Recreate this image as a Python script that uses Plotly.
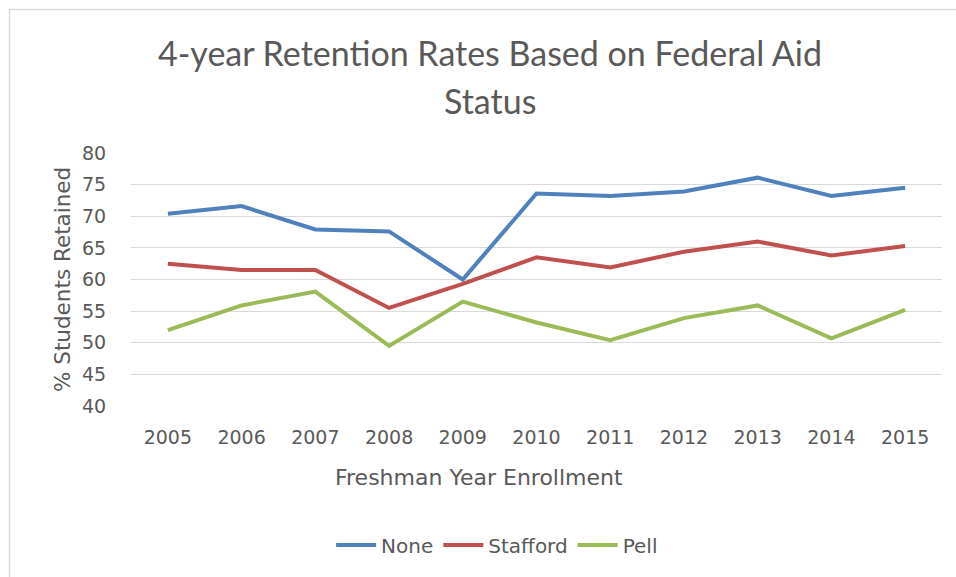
import plotly.graph_objects as go

# Freshman cohorts and 4-year retention (%) by federal aid status
years = ["2005", "2006", "2007", "2008", "2009", "2010",
         "2011", "2012", "2013", "2014", "2015"]
none_rates = [70.4, 71.6, 67.9, 67.6, 60.0, 73.6, 73.2, 73.9, 76.1, 73.2, 74.5]
stafford_rates = [62.5, 61.5, 61.5, 55.5, 59.3, 63.5, 61.9, 64.4, 66.0, 63.8, 65.3]
pell_rates = [52.0, 55.9, 58.1, 49.5, 56.5, 53.2, 50.4, 53.9, 55.9, 50.7, 55.2]
y_ticks = [40, 45, 50, 55, 60, 65, 70, 75, 80]

TITLE_FONT = "Lato"
FONT = "DejaVu Sans"
TEXT = "#595959"
W, H = 956, 577
L, R, T, B = 131, 14, 153, 171  # plot-area margins in px

fig = go.Figure()
for name, vals, color in [("None", none_rates, "#4F81BD"),
                          ("Stafford", stafford_rates, "#C0504D"),
                          ("Pell", pell_rates, "#9BBB59")]:
    fig.add_trace(go.Scatter(x=years, y=vals, name=name, mode="lines",
                             line=dict(color=color, width=4)))

pw, ph = W - L - R, H - T - B


def px_x(p):
    return (p - L) / pw


def px_y(p):
    return (H - B - p) / ph


# light frame around the chart
fig.add_shape(type="rect", xref="paper", yref="paper",
              x0=px_x(9.5), x1=px_x(990), y0=px_y(600), y1=px_y(9.5),
              line=dict(color="#d9d9d9", width=1.5), fillcolor="rgba(0,0,0,0)",
              layer="below")

# two-line title
fig.add_annotation(text="4-year Retention Rates Based on Federal Aid",
                   xref="paper", yref="paper", x=px_x(490), y=px_y(52),
                   xanchor="center", yanchor="middle", showarrow=False,
                   font=dict(family=TITLE_FONT, size=34, color=TEXT))
fig.add_annotation(text="Status",
                   xref="paper", yref="paper", x=px_x(490), y=px_y(100),
                   xanchor="center", yanchor="middle", showarrow=False,
                   font=dict(family=TITLE_FONT, size=34, color=TEXT))

# axis titles
fig.add_annotation(text="Freshman Year Enrollment",
                   xref="paper", yref="paper", x=px_x(479), y=px_y(477),
                   xanchor="center", yanchor="middle", showarrow=False,
                   font=dict(family=FONT, size=22, color=TEXT))
fig.add_annotation(text="% Students Retained", textangle=-90,
                   xref="paper", yref="paper", x=px_x(62), y=px_y(280),
                   xanchor="center", yanchor="middle", showarrow=False,
                   font=dict(family=FONT, size=21.5, color=TEXT))

fig.update_layout(
    width=W, height=H,
    margin=dict(l=L, r=R, t=T, b=B, pad=0),
    paper_bgcolor="white", plot_bgcolor="white",
    font=dict(family=FONT, color=TEXT, size=20),
    showlegend=True,
    legend=dict(orientation="h", xref="container", yref="container",
                x=0.52, y=1 - 545 / H, xanchor="center", yanchor="middle",
                font=dict(family=FONT, size=20, color=TEXT),
                itemwidth=40, tracegroupgap=0),
    xaxis=dict(type="category", range=[-0.5, 10.5], showgrid=False,
               showline=False, zeroline=False,
               ticks="outside", ticklen=14, tickcolor="rgba(0,0,0,0)",
               tickfont=dict(family=FONT, size=19, color=TEXT)),
    yaxis=dict(range=[40, 80], tickvals=y_ticks, showgrid=True,
               gridcolor="#d9d9d9", gridwidth=1, zeroline=False,
               showline=False, ticks="outside", ticklen=20,
               tickcolor="rgba(0,0,0,0)",
               tickfont=dict(family=FONT, size=19, color=TEXT)),
)

fig.write_html("out.html")
